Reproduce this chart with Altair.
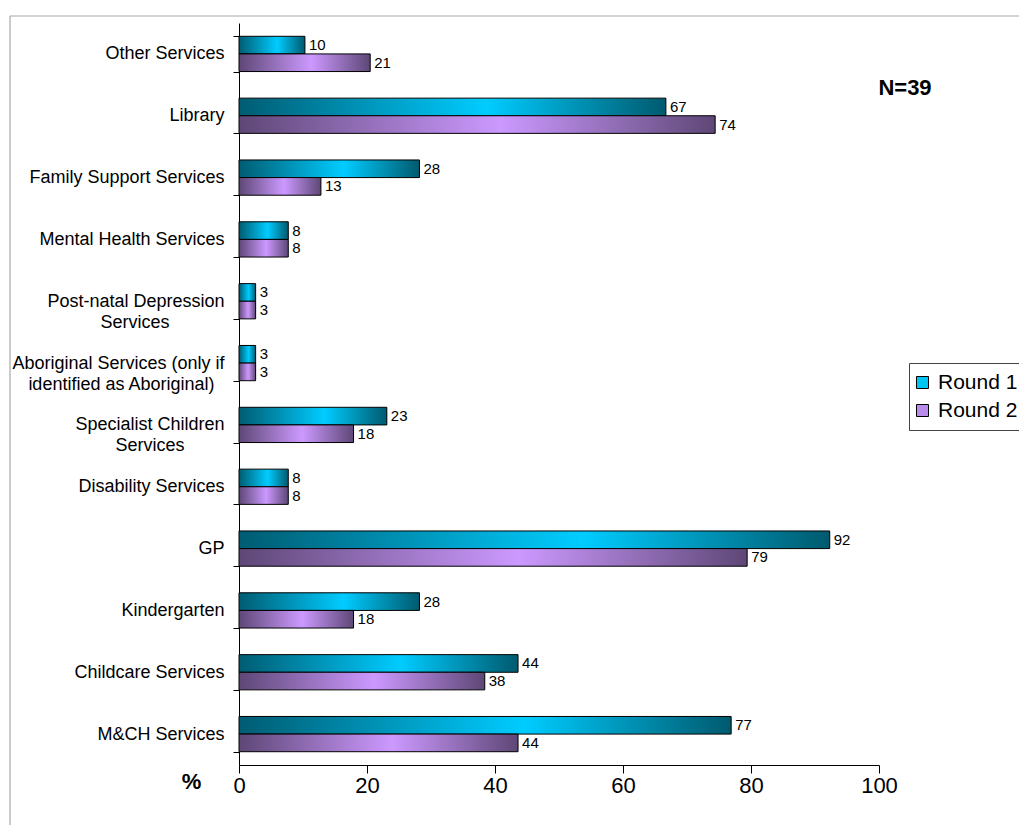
import altair as alt
import pandas as pd

FONT = "Liberation Sans"
NB = "\u00a0"
ZW = "\u200b"

categories = [
    "Other Services",
    "Library",
    "Family Support Services",
    "Mental Health Services",
    "Post-natal Depression\n" + "Services" + NB * 11 + ZW,
    "Aboriginal Services (only if\n" + "identified as Aboriginal)" + NB * 2 + ZW,
    "Specialist Children\n" + "Services" + NB * 8 + ZW,
    "Disability Services",
    "GP",
    "Kindergarten",
    "Childcare Services",
    "M&CH Services",
]
round1 = [10.3, 66.7, 28.2, 7.7, 2.6, 2.6, 23.1, 7.7, 92.3, 28.2, 43.6, 76.9]
round2 = [20.5, 74.4, 12.8, 7.7, 2.6, 2.6, 17.9, 7.7, 79.4, 17.9, 38.4, 43.6]
series = ["Round 1", "Round 2"]
x_ticks = [0, 20, 40, 60, 80, 100]
note = "N=39"

rows = []
for c, a, b in zip(categories, round1, round2):
    rows.append({"category": c, "series": series[0], "value": a})
    rows.append({"category": c, "series": series[1], "value": b})
df = pd.DataFrame(rows)

grad1 = alt.LinearGradient(
    gradient="linear", x1=0, x2=1, y1=0, y2=0,
    stops=[alt.GradientStop(color="#005C72", offset=0),
           alt.GradientStop(color="#00CCFF", offset=0.58),
           alt.GradientStop(color="#005A6E", offset=1)])
grad2 = alt.LinearGradient(
    gradient="linear", x1=0, x2=1, y1=0, y2=0,
    stops=[alt.GradientStop(color="#5E4776", offset=0),
           alt.GradientStop(color="#CC99FF", offset=0.55),
           alt.GradientStop(color="#5E4776", offset=1)])

x_enc = alt.X("value:Q", scale=alt.Scale(domain=[0, 100], nice=False),
              axis=alt.Axis(values=x_ticks, grid=False, title="%", titleFontSize=22,
                            titleFontWeight="bold", titleFont=FONT, titleColor="black",
                            titleX=-48, titleY=16, titleAlign="center", titleBaseline="middle",
                            titleAngle=0,
                            labelFontSize=22, labelFont=FONT, labelColor="black",
                            labelPadding=2, tickSize=8, tickColor="black",
                            domainColor="black", labelFlush=False))
y_enc = alt.Y("category:N", sort=categories,
              scale=alt.Scale(paddingInner=0.43, paddingOuter=0.215),
              axis=alt.Axis(title=None, labelFontSize=18, labelFont=FONT, labelColor="black",
                            labelPadding=9, tickSize=6, tickBand="extent", labelLimit=400,
                            labelExpr="split(datum.label, '\\n')", labelLineHeight=21,
                            domainColor="black", tickColor="black"))
yo_enc = alt.YOffset("series:N", scale=alt.Scale(domain=series, paddingInner=0, paddingOuter=0))

base = alt.Chart(df)

bars1 = base.transform_filter(alt.datum.series == series[0]).mark_bar(
    fill=grad1, stroke="black", strokeWidth=1).encode(x=x_enc, y=y_enc, yOffset=yo_enc)
bars2 = base.transform_filter(alt.datum.series == series[1]).mark_bar(
    fill=grad2, stroke="black", strokeWidth=1).encode(x=x_enc, y=y_enc, yOffset=yo_enc)

labels = base.mark_text(align="left", baseline="middle", dx=4, fontSize=15,
                        font=FONT, color="black").encode(
    x=x_enc, y=y_enc, yOffset=yo_enc, text=alt.Text("value:Q", format=".0f"))

legend_layer = base.mark_square(opacity=0, filled=True).encode(
    x=x_enc, y=y_enc, yOffset=yo_enc,
    fill=alt.Fill("series:N", scale=alt.Scale(domain=series, range=["#00C4F2", "#B98CEB"]),
                  legend=alt.Legend(title=None, orient="none", legendX=670, legendY=340,
                                    symbolType="square", symbolSize=144, symbolOpacity=1,
                                    symbolStrokeColor="black", symbolStrokeWidth=1,
                                    symbolOffset=-6,
                                    labelFontSize=21, labelFont=FONT, labelColor="black",
                                    labelOffset=5, rowPadding=6, padding=9,
                                    strokeColor="#444444", fillColor="white")))

one = pd.DataFrame({"t": [note]})
ntext = alt.Chart(one).mark_text(fontSize=22, fontWeight="bold", font=FONT,
                                 color="black", align="center", baseline="middle").encode(
    x=alt.value(666), y=alt.value(65), text="t:N")
border_top = alt.Chart(one).mark_rule(color="#A8A8A8", strokeWidth=1.2).encode(
    x=alt.value(-229), x2=alt.value(900), y=alt.value(-7))
border_left = alt.Chart(one).mark_rule(color="#A8A8A8", strokeWidth=1.2).encode(
    x=alt.value(-229), y=alt.value(-7), y2=alt.value(900))

chart = alt.layer(border_top, border_left, bars1, bars2, labels, legend_layer, ntext).properties(
    width=640, height=742,
    padding={"left": 231, "top": 15, "right": 140, "bottom": 60},
    autosize="none",
).configure(font=FONT).configure_view(stroke=None)

chart.save("out.html", embed_options={"renderer": "svg", "actions": False})
